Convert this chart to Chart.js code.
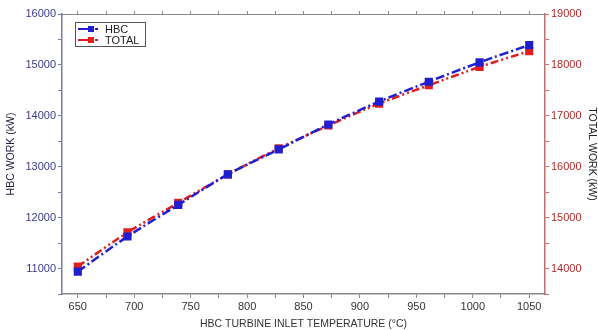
<!DOCTYPE html>
<html lang="en">
<head>
    <meta charset="utf-8"/>
    <title>HBC work</title>
    <script src="https://cdn.jsdelivr.net/npm/chart.js"></script>
    <style>
        html, body { margin: 0; padding: 0; background: #fff; }
        #wrap { width: 598px; height: 330px; position: relative; }
    </style>
</head>
<body>
<div id="wrap"><canvas id="workChart" width="598" height="330"></canvas></div>
<script>
    // Data
    const temps = [650, 694, 739, 783, 828, 872, 917, 961, 1006, 1050];
    const hbcWork = [10940, 11630, 12250, 12850, 13340, 13830, 14280, 14670, 15050, 15390];
    const totalWork = [14040, 14710, 15290, 15850, 16360, 16810, 17240, 17600, 17960, 18270];
    const seriesNames = ['HBC', 'TOTAL'];

    const tickFont = { family: 'Liberation Sans, Arial, sans-serif', size: 11 };
    const titleFont = { family: 'Liberation Sans, Arial, sans-serif', size: 10.5 };

    function pts(ys) {
        return temps.map((t, i) => ({ x: t, y: ys[i] }));
    }

    // legend box drawn inside the plot, top-left
    const boxLegend = {
        id: 'boxLegend',
        afterDraw(chart) {
            const ctx = chart.ctx;
            const x = chart.chartArea.left + 13, y = chart.chartArea.top + 8;
            ctx.save();
            ctx.strokeStyle = '#555';
            ctx.lineWidth = 1;
            ctx.strokeRect(x + 0.5, y + 0.5, 70, 24);
            ctx.font = '11px Liberation Sans, Arial, sans-serif';
            ctx.textBaseline = 'middle';
            chart.data.datasets.forEach((ds, i) => {
                const cy = y + 7 + i * 11;
                ctx.strokeStyle = ds.borderColor;
                ctx.lineWidth = 2;
                ctx.setLineDash([]);
                ctx.beginPath();
                ctx.moveTo(x + 3, cy); ctx.lineTo(x + 16, cy);
                ctx.stroke();
                ctx.beginPath();
                ctx.moveTo(x + 20, cy); ctx.lineTo(x + 23, cy);
                ctx.stroke();
                ctx.fillStyle = ds.borderColor;
                ctx.fillRect(x + 13, cy - 3, 6, 6);
                ctx.fillStyle = '#222';
                ctx.fillText(seriesNames[i], x + 30, cy + 1);
            });
            ctx.restore();
        }
    };

    new Chart(document.getElementById('workChart'), {
        type: 'line',
        data: {
            datasets: [{
                label: seriesNames[0],
                data: pts(hbcWork),
                yAxisID: 'y',
                borderColor: '#1f1fd0',
                backgroundColor: '#1f1fd0',
                borderWidth: 2.5,
                borderDash: [9, 3, 2, 3],
                pointStyle: 'rect',
                pointRadius: 4,
                tension: 0.25,
                fill: false
            }, {
                label: seriesNames[1],
                data: pts(totalWork),
                yAxisID: 'y1',
                borderColor: '#e01e1e',
                backgroundColor: '#e01e1e',
                borderWidth: 2.5,
                borderDash: [8, 3, 2, 3, 2, 3],
                pointStyle: 'rect',
                pointRadius: 4,
                tension: 0.25,
                fill: false
            }]
        },
        options: {
            responsive: false,
            animation: false,
            plugins: { legend: { display: false }, tooltip: { enabled: false } },
            layout: { padding: 0 },
            scales: {
                x: {
                    type: 'linear',
                    position: 'bottom',
                    min: 636, max: 1064,
                    afterFit(s) { s.height = 36; },
                    border: { color: '#888', width: 1.5 },
                    grid: { drawOnChartArea: false, tickLength: 4, tickColor: '#888' },
                    ticks: {
                        stepSize: 25, includeBounds: false, autoSkip: false,
                        color: '#333', font: tickFont, padding: 2, maxRotation: 0,
                        callback: v => v % 50 === 0 ? v : ''
                    },
                    title: { display: true, text: 'HBC TURBINE INLET TEMPERATURE (\u00B0C)', color: '#333', font: titleFont, padding: { top: 2, bottom: 0 } }
                },
                x2: {
                    type: 'linear',
                    position: 'top',
                    min: 636, max: 1064,
                    afterFit(s) { s.height = 14; },
                    border: { color: '#888', width: 1 },
                    grid: { drawOnChartArea: false, tickLength: 3, tickColor: '#888' },
                    ticks: { stepSize: 25, includeBounds: false, callback: () => '' }
                },
                y: {
                    position: 'left',
                    min: 10500, max: 16000,
                    afterFit(s) { s.width = 62; },
                    border: { color: '#7a7aa8', width: 1.5 },
                    grid: { drawOnChartArea: false, tickLength: 4, tickColor: '#7a7aa8' },
                    ticks: {
                        stepSize: 500, includeBounds: false, autoSkip: false,
                        color: '#3a3a8c', font: tickFont, padding: 2,
                        callback: v => v % 1000 === 0 ? v : ''
                    },
                    title: { display: true, text: 'HBC WORK (kW)', color: '#222244', font: titleFont, padding: { top: 5, bottom: 0 } }
                },
                y1: {
                    position: 'right',
                    min: 13500, max: 19000,
                    afterFit(s) { s.width = 53; },
                    border: { color: '#c07070', width: 1.5 },
                    grid: { drawOnChartArea: false, tickLength: 4, tickColor: '#c07070' },
                    ticks: {
                        stepSize: 500, includeBounds: false, autoSkip: false,
                        color: '#b02a2a', font: tickFont, padding: 2,
                        callback: v => v % 1000 === 0 ? v : ''
                    },
                    title: { display: true, text: 'TOTAL WORK (kW)', color: '#222', font: titleFont, padding: 0 }
                }
            }
        },
        plugins: [boxLegend]
    });
</script>
</body>
</html>
